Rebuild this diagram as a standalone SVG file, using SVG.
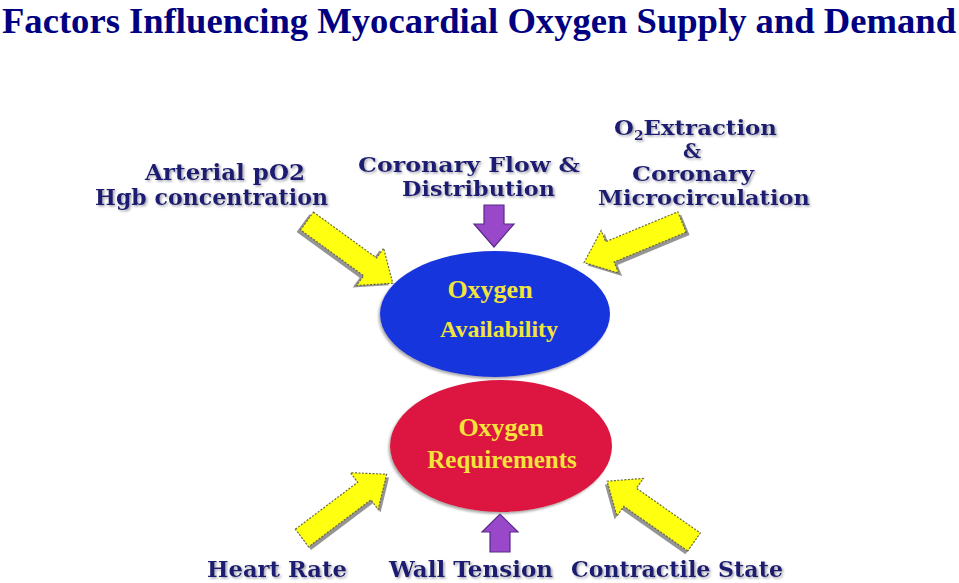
<svg xmlns="http://www.w3.org/2000/svg" xmlns:xlink="http://www.w3.org/1999/xlink" width="959" height="583" viewBox="0 0 959 583">
<defs>
<style>
.title{font-family:"Liberation Serif","Times New Roman",serif;font-weight:bold;font-size:36px;fill:#000080}
.lbl{font-family:"DejaVu Serif","Liberation Serif",serif;font-weight:bold;font-size:23px;fill:#1c1c72;filter:url(#sh)}
.sm{font-size:20px}
.in{font-family:"Liberation Serif","Times New Roman",serif;font-weight:bold;fill:#f2e43a;text-anchor:middle}
.ya{fill:#ffff10;stroke:#6a6a40;stroke-width:1.2;stroke-dasharray:2 1.5}
.yas{fill:#707070;opacity:0.75}
.pa{fill:#9848c8;stroke:#5a2a88;stroke-width:1.2}
</style>
<filter id="sh" x="-5%" y="-20%" width="115%" height="150%">
<feDropShadow dx="1.5" dy="1.5" stdDeviation="0.8" flood-color="#9a9aa8" flood-opacity="0.9"/>
</filter>
<filter id="es" x="-10%" y="-10%" width="120%" height="125%">
<feDropShadow dx="-1.5" dy="2" stdDeviation="1" flood-color="#8a8a8a" flood-opacity="0.7"/>
</filter>
<path id="arr" d="M0,-11 L78,-11 L78,-23 L106,0 L78,23 L78,11 L0,11 Z"/>
</defs>
<rect width="959" height="583" fill="#ffffff"/>
<text class="title" x="2" y="33" textLength="954" lengthAdjust="spacingAndGlyphs">Factors Influencing Myocardial Oxygen Supply and Demand</text>

<g id="connectors">
<g transform="translate(307,221) rotate(36)"><use xlink:href="#arr" class="yas" transform="translate(-2,4)"/><use xlink:href="#arr" class="ya"/></g>
<g transform="translate(682,222) rotate(157.5)"><use xlink:href="#arr" class="yas" transform="translate(-2,-4)"/><use xlink:href="#arr" class="ya"/></g>
<g transform="translate(302,538) rotate(-37)"><use xlink:href="#arr" class="yas" transform="translate(0,4)"/><use xlink:href="#arr" class="ya"/></g>
<g transform="translate(694,542) rotate(-145)"><use xlink:href="#arr" class="yas" transform="translate(0,-4)"/><use xlink:href="#arr" class="ya"/></g>
<path class="pa" d="M484,205 L504,205 L504,224 L514,224 L494,247 L474,224 L484,224 Z"/>
<path class="pa" d="M490,552 L510,552 L510,532 L518,532 L500,514 L482,532 L490,532 Z"/>
</g>

<g id="availability">
<ellipse cx="495" cy="314" rx="115" ry="63" fill="#1434dc" filter="url(#es)"/>
<text class="in" x="490" y="298" font-size="26">Oxygen</text>
<text class="in" x="499" y="337" font-size="24">Availability</text>
</g>
<g id="requirements">
<ellipse cx="501" cy="446" rx="111" ry="66" fill="#dc1240" filter="url(#es)"/>
<text class="in" x="501" y="436" font-size="26">Oxygen</text>
<text class="in" x="502" y="468" font-size="25">Requirements</text>
</g>

<g id="arterial">
<text class="lbl" x="145" y="180" textLength="160" lengthAdjust="spacingAndGlyphs">Arterial pO2</text>
<text class="lbl" x="95" y="205" textLength="233" lengthAdjust="spacingAndGlyphs">Hgb concentration</text>
</g>
<g id="coronary-flow">
<text class="lbl sm" x="358" y="172" textLength="222" lengthAdjust="spacingAndGlyphs">Coronary Flow &amp;</text>
<text class="lbl sm" x="402" y="196" textLength="153" lengthAdjust="spacingAndGlyphs">Distribution</text>
</g>
<g id="extraction">
<text class="lbl sm" x="614" y="135" textLength="163" lengthAdjust="spacingAndGlyphs">O<tspan font-size="12" dy="5">2</tspan><tspan dy="-5">Extraction</tspan></text>
<text class="lbl sm" x="683" y="158">&amp;</text>
<text class="lbl sm" x="632" y="181" textLength="122" lengthAdjust="spacingAndGlyphs">Coronary</text>
<text class="lbl sm" x="598" y="205" textLength="212" lengthAdjust="spacingAndGlyphs">Microcirculation</text>
</g>
<g id="heart-rate">
<text class="lbl" x="207" y="577" textLength="140" lengthAdjust="spacingAndGlyphs">Heart Rate</text>
</g>
<g id="wall-tension">
<text class="lbl" x="389" y="577" textLength="164" lengthAdjust="spacingAndGlyphs">Wall Tension</text>
</g>
<g id="contractile">
<text class="lbl" x="571" y="577" textLength="212" lengthAdjust="spacingAndGlyphs">Contractile State</text>
</g>
</svg>
